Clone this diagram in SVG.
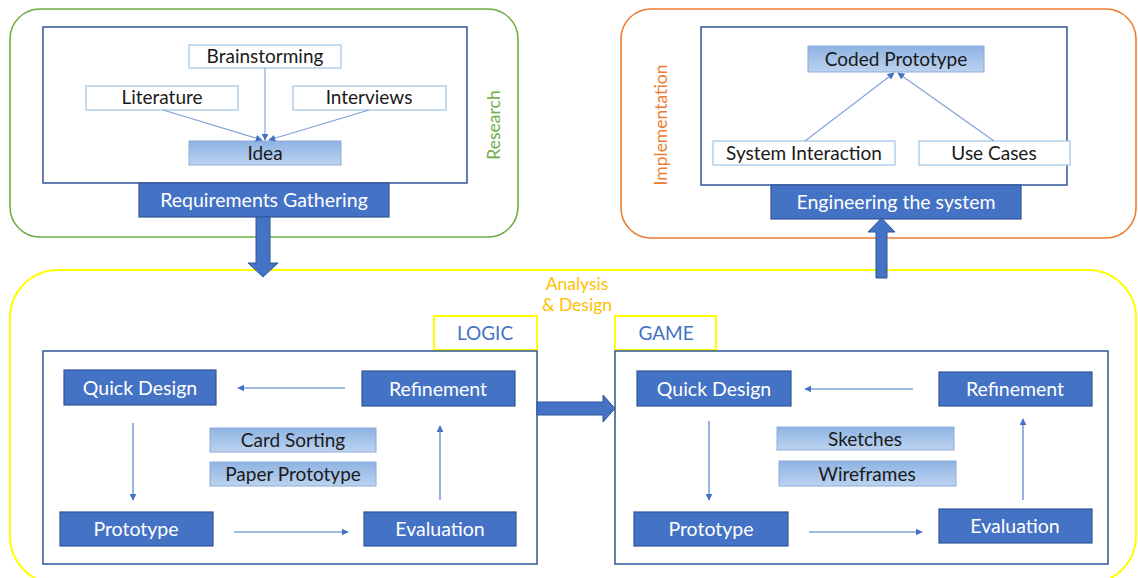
<svg xmlns="http://www.w3.org/2000/svg" width="1138" height="578" viewBox="0 0 1138 578">
  <defs>
    <linearGradient id="soft" x1="0" y1="0" x2="0" y2="1">
      <stop offset="0" stop-color="#8EB3E2"/>
      <stop offset="1" stop-color="#BCD3EF"/>
    </linearGradient>
    <marker id="tip" viewBox="0 0 10 10" refX="9" refY="5" markerWidth="7" markerHeight="7" markerUnits="userSpaceOnUse" orient="auto">
      <path d="M0,0 L10,5 L0,10 Z" fill="#4472C4"/>
    </marker>
    <style>
      text { font-family: Lato, "Liberation Sans", sans-serif; }
      .stage { fill: #4472C4; stroke: #2F5597; stroke-width: 1.2; }
      .stage-t { fill: #FFFFFF; font-size: 19.5px; text-anchor: middle; }
      .panel { fill: #FFFFFF; stroke: #2F5597; stroke-width: 1.5; }
      .plain { fill: #FFFFFF; stroke: #9DC3E6; stroke-width: 1.2; }
      .soft { fill: url(#soft); stroke: #8FAADC; stroke-width: 1; }
      .dark-t { fill: #1A1A1A; font-size: 19px; text-anchor: middle; }
      .tag { fill: #FFFFFF; stroke: #FFFF00; stroke-width: 2; }
      .tag-t { fill: #4472C4; font-size: 19px; text-anchor: middle; }
      .link { stroke: #4472C4; stroke-width: 1.1; fill: none; marker-end: url(#tip); }
      .link-soft { stroke: #7F9FD6; stroke-width: 1.1; fill: none; marker-end: url(#tip); }
      .block { fill: #4472C4; stroke: #2F5597; stroke-width: 1; }
      .phase { font-size: 17.5px; text-anchor: middle; }
    </style>
  </defs>

  <!-- phase containers -->
  <g id="research">
    <rect x="10" y="9" width="508" height="228" rx="30" fill="#FFFFFF" stroke="#70AD47" stroke-width="1.6"/>
    <text class="phase" fill="#70AD47" transform="translate(500,125) rotate(-90)">Research</text>
  </g>
  <g id="implementation">
    <rect x="621" y="9" width="515" height="229" rx="30" fill="#FFFFFF" stroke="#ED7D31" stroke-width="1.6"/>
    <text class="phase" fill="#ED7D31" transform="translate(667,125) rotate(-90)">Implementation</text>
  </g>
  <g id="analysis-design">
    <rect x="10" y="270" width="1126" height="314" rx="48" fill="#FFFFFF" stroke="#FFFF00" stroke-width="2"/>
    <text class="phase" fill="#FFC000" x="577" y="290">Analysis</text>
    <text class="phase" fill="#FFC000" x="577" y="311">&amp; Design</text>
  </g>

  <!-- research panel -->
  <g id="requirements-panel">
    <rect class="panel" x="43" y="27" width="424" height="156"/>
  </g>
  <g id="brainstorming">
    <rect class="plain" x="189" y="45" width="152" height="23"/>
    <text class="dark-t" x="265" y="63">Brainstorming</text>
  </g>
  <g id="literature">
    <rect class="plain" x="86" y="86" width="152" height="24"/>
    <text class="dark-t" x="162" y="104">Literature</text>
  </g>
  <g id="interviews">
    <rect class="plain" x="293" y="86" width="153" height="24"/>
    <text class="dark-t" x="369" y="104">Interviews</text>
  </g>
  <g id="idea">
    <rect class="soft" x="189" y="141" width="152" height="24"/>
    <text class="dark-t" x="265" y="160">Idea</text>
  </g>
  <g id="requirements-gathering">
    <rect class="stage" x="139" y="183" width="250" height="34"/>
    <text class="stage-t" x="264" y="207">Requirements Gathering</text>
  </g>

  <!-- implementation panel -->
  <g id="engineering-panel">
    <rect class="panel" x="701" y="27" width="366" height="158"/>
  </g>
  <g id="coded-prototype">
    <rect class="soft" x="808" y="46" width="176" height="26"/>
    <text class="dark-t" x="896" y="66">Coded Prototype</text>
  </g>
  <g id="system-interaction">
    <rect class="plain" x="713" y="141" width="182" height="24"/>
    <text class="dark-t" x="804" y="160">System Interaction</text>
  </g>
  <g id="use-cases">
    <rect class="plain" x="919" y="141" width="151" height="24"/>
    <text class="dark-t" x="994" y="160">Use Cases</text>
  </g>
  <g id="engineering-the-system">
    <rect class="stage" x="771" y="185" width="250" height="34"/>
    <text class="stage-t" x="896" y="209">Engineering the system</text>
  </g>

  <!-- logic prototyping loop -->
  <g id="logic-tag">
    <rect class="tag" x="434" y="316" width="103" height="34"/>
    <text class="tag-t" x="485" y="340">LOGIC</text>
  </g>
  <g id="logic-panel">
    <rect class="panel" x="43" y="351" width="494" height="213"/>
  </g>
  <g id="logic-quick-design">
    <rect class="stage" x="64" y="370" width="152" height="35"/>
    <text class="stage-t" x="140" y="395">Quick Design</text>
  </g>
  <g id="logic-refinement">
    <rect class="stage" x="362" y="371" width="153" height="35"/>
    <text class="stage-t" x="438" y="396">Refinement</text>
  </g>
  <g id="card-sorting">
    <rect class="soft" x="210" y="428" width="166" height="24"/>
    <text class="dark-t" x="293" y="447">Card Sorting</text>
  </g>
  <g id="paper-prototype">
    <rect class="soft" x="210" y="462" width="166" height="24"/>
    <text class="dark-t" x="293" y="481">Paper Prototype</text>
  </g>
  <g id="logic-prototype">
    <rect class="stage" x="60" y="512" width="153" height="34"/>
    <text class="stage-t" x="136" y="536">Prototype</text>
  </g>
  <g id="logic-evaluation">
    <rect class="stage" x="364" y="512" width="152" height="34"/>
    <text class="stage-t" x="440" y="536">Evaluation</text>
  </g>

  <!-- game prototyping loop -->
  <g id="game-tag">
    <rect class="tag" x="615" y="316" width="101" height="34"/>
    <text class="tag-t" x="666" y="340">GAME</text>
  </g>
  <g id="game-panel">
    <rect class="panel" x="615" y="351" width="493" height="213"/>
  </g>
  <g id="game-quick-design">
    <rect class="stage" x="637" y="371" width="154" height="35"/>
    <text class="stage-t" x="714" y="396">Quick Design</text>
  </g>
  <g id="game-refinement">
    <rect class="stage" x="939" y="372" width="153" height="34"/>
    <text class="stage-t" x="1015" y="396">Refinement</text>
  </g>
  <g id="sketches">
    <rect class="soft" x="777" y="427" width="177" height="23"/>
    <text class="dark-t" x="865" y="446">Sketches</text>
  </g>
  <g id="wireframes">
    <rect class="soft" x="779" y="461" width="177" height="25"/>
    <text class="dark-t" x="867" y="481">Wireframes</text>
  </g>
  <g id="game-prototype">
    <rect class="stage" x="634" y="512" width="154" height="34"/>
    <text class="stage-t" x="711" y="536">Prototype</text>
  </g>
  <g id="game-evaluation">
    <rect class="stage" x="939" y="509" width="153" height="34"/>
    <text class="stage-t" x="1015" y="533">Evaluation</text>
  </g>

  <!-- connectors -->
  <g id="connectors">
    <!-- research inputs into the idea -->
    <line class="link-soft" x1="265" y1="68" x2="265" y2="140"/>
    <line class="link-soft" x1="163" y1="110" x2="262" y2="140"/>
    <line class="link-soft" x1="369" y1="110" x2="269" y2="140"/>
    <!-- implementation inputs into the coded prototype -->
    <line class="link-soft" x1="805" y1="141" x2="894" y2="73"/>
    <line class="link-soft" x1="994" y1="141" x2="898" y2="73"/>
    <!-- logic loop -->
    <line class="link" x1="345" y1="388" x2="238" y2="388"/>
    <line class="link" x1="133" y1="423" x2="133" y2="500"/>
    <line class="link" x1="234" y1="532" x2="348" y2="532"/>
    <line class="link" x1="440" y1="500" x2="440" y2="426"/>
    <!-- game loop -->
    <line class="link" x1="913" y1="389" x2="805" y2="389"/>
    <line class="link" x1="709" y1="421" x2="709" y2="500"/>
    <line class="link" x1="809" y1="532" x2="922" y2="532"/>
    <line class="link" x1="1023" y1="500" x2="1023" y2="419"/>
    <!-- phase hand-offs -->
    <polygon class="block" points="256,217 270,217 270,263 278,263 263,277 248,263 256,263"/>
    <polygon class="block" points="537,402 603,402 603,395 615,408.5 603,422 603,415 537,415"/>
    <polygon class="block" points="876,278 887,278 887,232 895,232 881.5,218 868,232 876,232"/>
  </g>
</svg>
